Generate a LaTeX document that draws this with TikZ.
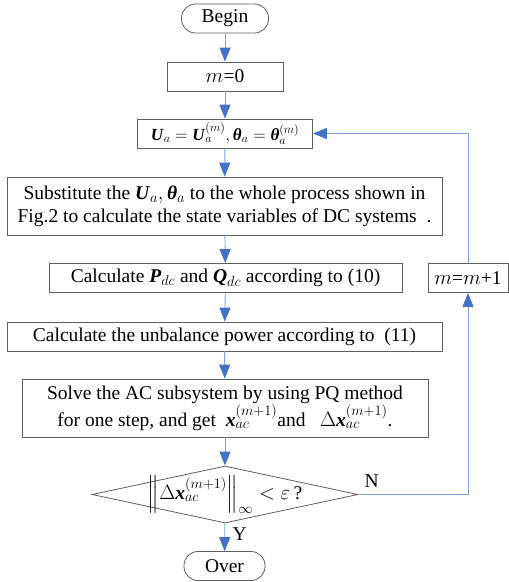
\documentclass[tikz,border=0pt]{standalone}
\usepackage{amsmath}
\usepackage{fontspec}
\setmainfont{Liberation Serif}
\usetikzlibrary{arrows.meta,shapes.geometric}

\definecolor{linkblue}{RGB}{125,162,218}
\definecolor{tipblue}{RGB}{68,114,196}
\definecolor{edgegray}{RGB}{95,95,95}
\newcommand{\bvar}[1]{\textbf{\textit{#1}}}

\begin{document}
\begin{tikzpicture}[
  x=1pt, y=-1pt, font=\fontsize{19.5}{23}\selectfont,
  term/.style  ={draw=edgegray, rounded corners=14pt, line width=0.8pt,
                 minimum width=#1, minimum height=29pt, inner sep=0pt},
  proc/.style  ={draw=edgegray, line width=0.8pt, align=center,
                 minimum width=#1, minimum height=29pt, inner sep=0pt},
  check/.style ={draw=edgegray, diamond, line width=0.8pt,
                 minimum width=266pt, minimum height=57pt, inner sep=0pt},
  flow/.style  ={-{Triangle[width=11pt,length=14pt,color=tipblue]},
                 line width=0.9pt, draw=linkblue},
]
\useasboundingbox (0,0) rectangle (509,582);

% Main column of the iteration.
\node[term=87pt]  (begin) at (225,18.5)  {Begin};
\node[proc=116pt] (init)  at (225,76.5)  {$m$=0};
\node[proc=175pt, font=\fontsize{17}{20}\selectfont] (ua) at (225,133.5)
  {$\bvar{U}_{a}=\bvar{U}_{a}^{(m)},\bvar{θ}_{a}=\bvar{θ}_{a}^{(m)}$};
\node[proc=435pt, minimum height=58pt] (subst) at (224.5,206)
  {Substitute the $\bvar{U}_{a},\bvar{θ}_{a}$ to the whole process shown in\\
   Fig.2 to calculate the state variables of DC systems\ \ .};
\node[proc=353pt] (calc)  at (225.5,278) {Calculate $\bvar{P}_{dc}$ and $\bvar{Q}_{dc}$ according to\ (10)};
\node[proc=435pt] (unbal) at (224.5,336.5) {Calculate the unbalance power according to\ \ (11)};
\node[proc=406pt, minimum height=58pt] (solve) at (225,408)
  {Solve the AC subsystem by using PQ method\\
   for one step, and get\ \ $\bvar{x}_{ac}^{(m+1)}$and\ \ \ $\Delta\bvar{x}_{ac}^{(m+1)}$.};
\node[check] (conv) at (225,494.5)
  {\makebox[0pt]{$\Big\|\Delta\bvar{x}_{ac}^{(m+1)}\Big\|_{\infty}<\varepsilon\,$?}};
\node[term=81pt] (over) at (224.5,566) {Over};

% Feedback box on the right.
\node[proc=80pt] (next) at (468,278) {$m$=$m$+1};

% Forward arrows.
\draw[flow] (begin) -- (init);
\draw[flow] (init)  -- (ua);
\draw[flow] (ua)    -- (subst);
\draw[flow] (subst) -- (calc);
\draw[flow] (calc)  -- (unbal);
\draw[flow] (unbal) -- (solve);
\draw[flow] (solve) -- (conv);
\draw[flow] (conv)  -- node[right=4pt, pos=0.4] {Y} (over);

% Loop back when not converged.
\draw[flow] (conv.east) -| node[pos=0.06, above=3pt] {N} (next.south);
\draw[flow] (next.north) |- (ua.east);
\end{tikzpicture}
\end{document}
